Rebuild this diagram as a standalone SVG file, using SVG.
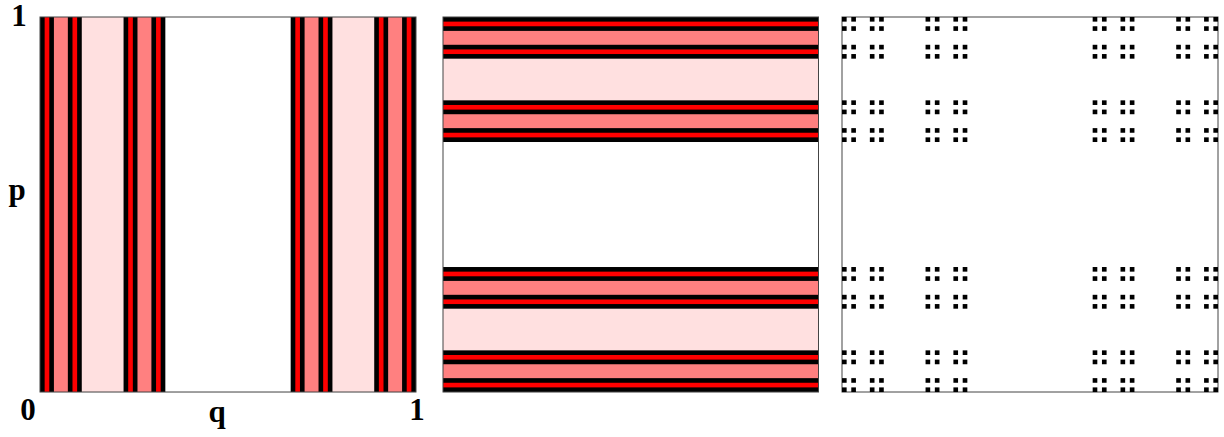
<svg xmlns="http://www.w3.org/2000/svg" xmlns:xlink="http://www.w3.org/1999/xlink" width="1224" height="437" viewBox="0 0 1224 437">
  <style>
    .lbl { font-family: "Liberation Serif", "Times New Roman", serif; font-weight: bold; font-size: 31px; fill: #000; }
    .frame { fill: none; stroke: #444; stroke-width: 1; }
    .blk { fill: #000; }
    .red { fill: #ff0000; }
    .sal { fill: #ff8080; }
    .pnk { fill: #ffe0e0; }
    .wht { fill: #ffffff; }
  </style>
  <defs>
    <g id="stripes">
      <rect class="blk" x="0" y="0" width="81" height="81"/>
      <rect class="wht" x="27" y="0" width="27" height="81"/>
      <rect class="pnk" x="9" y="0" width="9" height="81"/>
      <rect class="pnk" x="63" y="0" width="9" height="81"/>
      <rect class="sal" x="3" y="0" width="3" height="81"/>
      <rect class="sal" x="21" y="0" width="3" height="81"/>
      <rect class="sal" x="57" y="0" width="3" height="81"/>
      <rect class="sal" x="75" y="0" width="3" height="81"/>
      <rect class="red" x="1" y="0" width="1" height="81"/>
      <rect class="red" x="7" y="0" width="1" height="81"/>
      <rect class="red" x="19" y="0" width="1" height="81"/>
      <rect class="red" x="25" y="0" width="1" height="81"/>
      <rect class="red" x="55" y="0" width="1" height="81"/>
      <rect class="red" x="61" y="0" width="1" height="81"/>
      <rect class="red" x="73" y="0" width="1" height="81"/>
      <rect class="red" x="79" y="0" width="1" height="81"/>
    </g>
    <rect id="sq" class="blk" x="0" y="0" width="1" height="1"/>
    <g id="c1">
      <use xlink:href="#sq" href="#sq"/>
      <use xlink:href="#sq" href="#sq" x="2"/>
      <use xlink:href="#sq" href="#sq" y="2"/>
      <use xlink:href="#sq" href="#sq" x="2" y="2"/>
    </g>
    <g id="c2">
      <use xlink:href="#c1" href="#c1"/>
      <use xlink:href="#c1" href="#c1" x="6"/>
      <use xlink:href="#c1" href="#c1" y="6"/>
      <use xlink:href="#c1" href="#c1" x="6" y="6"/>
    </g>
    <g id="c3">
      <use xlink:href="#c2" href="#c2"/>
      <use xlink:href="#c2" href="#c2" x="18"/>
      <use xlink:href="#c2" href="#c2" y="18"/>
      <use xlink:href="#c2" href="#c2" x="18" y="18"/>
    </g>
    <g id="c4">
      <use xlink:href="#c3" href="#c3"/>
      <use xlink:href="#c3" href="#c3" x="54"/>
      <use xlink:href="#c3" href="#c3" y="54"/>
      <use xlink:href="#c3" href="#c3" x="54" y="54"/>
    </g>
  </defs>

  <rect x="0" y="0" width="1224" height="437" fill="#ffffff"/>

  <g id="panel-q">
    <use xlink:href="#stripes" href="#stripes" transform="matrix(4.642 0 0 4.630 40 17)"/>
    <rect class="frame" x="40" y="17" width="376" height="375"/>
  </g>

  <g id="panel-p">
    <use xlink:href="#stripes" href="#stripes" transform="matrix(0 4.630 4.636 0 443 17)"/>
    <rect class="frame" x="443" y="17" width="375.5" height="375"/>
  </g>

  <g id="panel-dust">
    <rect class="frame" x="842" y="17" width="376" height="375"/>
    <use xlink:href="#c4" href="#c4" transform="matrix(4.642 0 0 4.630 842 17)"/>
  </g>

  <g id="labels">
    <text class="lbl" font-family="Liberation Serif" x="19" y="26" text-anchor="middle">1</text>
    <text class="lbl" font-family="Liberation Serif" x="17" y="200" text-anchor="middle">p</text>
    <text class="lbl" font-family="Liberation Serif" x="28" y="420" text-anchor="middle">0</text>
    <text class="lbl" font-family="Liberation Serif" x="217" y="422" text-anchor="middle">q</text>
    <text class="lbl" font-family="Liberation Serif" x="417" y="420" text-anchor="middle">1</text>
  </g>
</svg>
